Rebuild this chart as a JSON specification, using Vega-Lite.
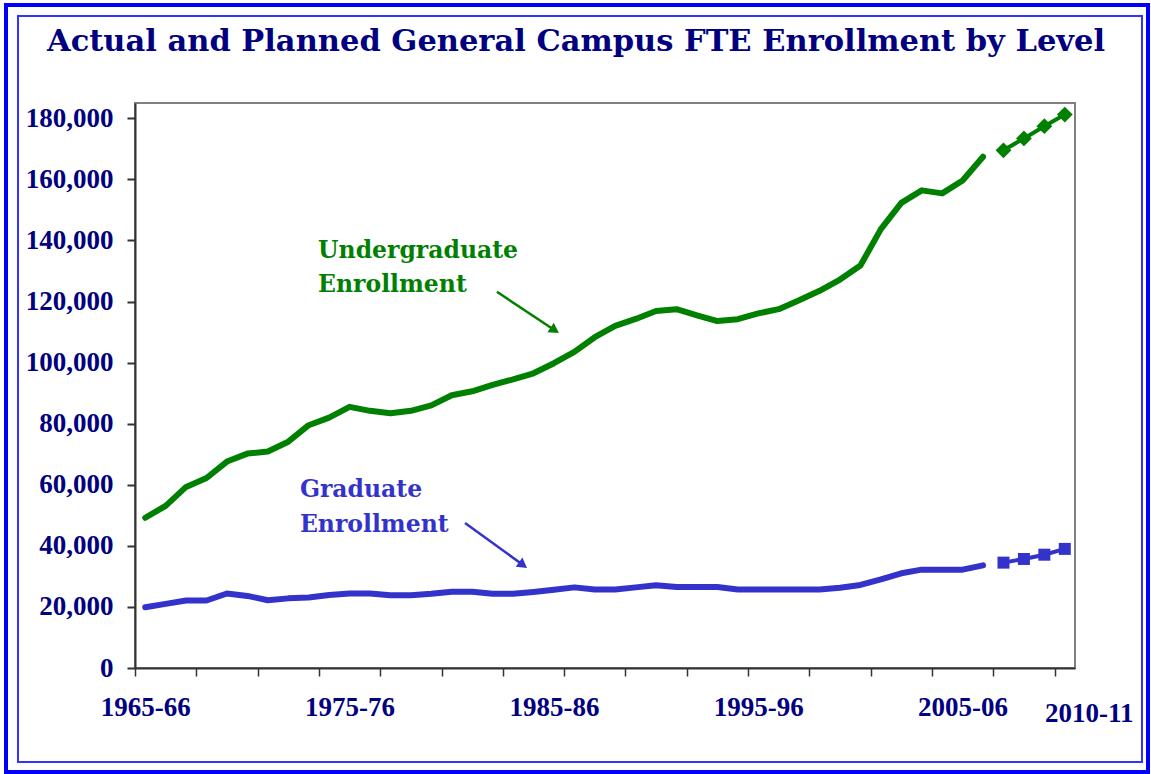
{
  "$schema": "https://vega.github.io/schema/vega-lite/v6.json",
  "width": 940,
  "height": 565,
  "autosize": {"type": "none"},
  "padding": {"left": 135, "top": 103, "right": 76, "bottom": 106},
  "background": "white",
  "title": {
    "text": "Actual and Planned General Campus FTE Enrollment by Level",
    "font": "DejaVu Serif",
    "fontSize": 30.5,
    "fontWeight": "bold",
    "color": "#000080",
    "anchor": "middle",
    "frame": "group",
    "baseline": "alphabetic",
    "offset": -78,
    "dx": -29
  },
  "config": {"view": {"stroke": "#808080", "strokeWidth": 2}},
  "datasets": {
    "actual": [
      {"year": 1965, "level": "Undergraduate", "fte": 49200},
      {"year": 1966, "level": "Undergraduate", "fte": 53100},
      {"year": 1967, "level": "Undergraduate", "fte": 59300},
      {"year": 1968, "level": "Undergraduate", "fte": 62200},
      {"year": 1969, "level": "Undergraduate", "fte": 67600},
      {"year": 1970, "level": "Undergraduate", "fte": 70200},
      {"year": 1971, "level": "Undergraduate", "fte": 70900},
      {"year": 1972, "level": "Undergraduate", "fte": 74100},
      {"year": 1973, "level": "Undergraduate", "fte": 79500},
      {"year": 1974, "level": "Undergraduate", "fte": 82000},
      {"year": 1975, "level": "Undergraduate", "fte": 85500},
      {"year": 1976, "level": "Undergraduate", "fte": 84200},
      {"year": 1977, "level": "Undergraduate", "fte": 83400},
      {"year": 1978, "level": "Undergraduate", "fte": 84200},
      {"year": 1979, "level": "Undergraduate", "fte": 86000},
      {"year": 1980, "level": "Undergraduate", "fte": 89300},
      {"year": 1981, "level": "Undergraduate", "fte": 90600},
      {"year": 1982, "level": "Undergraduate", "fte": 92700},
      {"year": 1983, "level": "Undergraduate", "fte": 94500},
      {"year": 1984, "level": "Undergraduate", "fte": 96500},
      {"year": 1985, "level": "Undergraduate", "fte": 99800},
      {"year": 1986, "level": "Undergraduate", "fte": 103500},
      {"year": 1987, "level": "Undergraduate", "fte": 108300},
      {"year": 1988, "level": "Undergraduate", "fte": 112000},
      {"year": 1989, "level": "Undergraduate", "fte": 114300},
      {"year": 1990, "level": "Undergraduate", "fte": 116900},
      {"year": 1991, "level": "Undergraduate", "fte": 117500},
      {"year": 1992, "level": "Undergraduate", "fte": 115500},
      {"year": 1993, "level": "Undergraduate", "fte": 113600},
      {"year": 1994, "level": "Undergraduate", "fte": 114200},
      {"year": 1995, "level": "Undergraduate", "fte": 116100},
      {"year": 1996, "level": "Undergraduate", "fte": 117500},
      {"year": 1997, "level": "Undergraduate", "fte": 120400},
      {"year": 1998, "level": "Undergraduate", "fte": 123500},
      {"year": 1999, "level": "Undergraduate", "fte": 127200},
      {"year": 2000, "level": "Undergraduate", "fte": 131800},
      {"year": 2001, "level": "Undergraduate", "fte": 143700},
      {"year": 2002, "level": "Undergraduate", "fte": 152300},
      {"year": 2003, "level": "Undergraduate", "fte": 156400},
      {"year": 2004, "level": "Undergraduate", "fte": 155400},
      {"year": 2005, "level": "Undergraduate", "fte": 159600},
      {"year": 2006, "level": "Undergraduate", "fte": 167400},
      {"year": 1965, "level": "Graduate", "fte": 19900},
      {"year": 1966, "level": "Graduate", "fte": 21000},
      {"year": 1967, "level": "Graduate", "fte": 22100},
      {"year": 1968, "level": "Graduate", "fte": 22100},
      {"year": 1969, "level": "Graduate", "fte": 24400},
      {"year": 1970, "level": "Graduate", "fte": 23600},
      {"year": 1971, "level": "Graduate", "fte": 22200},
      {"year": 1972, "level": "Graduate", "fte": 22800},
      {"year": 1973, "level": "Graduate", "fte": 23100},
      {"year": 1974, "level": "Graduate", "fte": 23900},
      {"year": 1975, "level": "Graduate", "fte": 24400},
      {"year": 1976, "level": "Graduate", "fte": 24400},
      {"year": 1977, "level": "Graduate", "fte": 23800},
      {"year": 1978, "level": "Graduate", "fte": 23800},
      {"year": 1979, "level": "Graduate", "fte": 24300},
      {"year": 1980, "level": "Graduate", "fte": 25000},
      {"year": 1981, "level": "Graduate", "fte": 25000},
      {"year": 1982, "level": "Graduate", "fte": 24300},
      {"year": 1983, "level": "Graduate", "fte": 24300},
      {"year": 1984, "level": "Graduate", "fte": 24900},
      {"year": 1985, "level": "Graduate", "fte": 25600},
      {"year": 1986, "level": "Graduate", "fte": 26400},
      {"year": 1987, "level": "Graduate", "fte": 25700},
      {"year": 1988, "level": "Graduate", "fte": 25700},
      {"year": 1989, "level": "Graduate", "fte": 26400},
      {"year": 1990, "level": "Graduate", "fte": 27100},
      {"year": 1991, "level": "Graduate", "fte": 26500},
      {"year": 1992, "level": "Graduate", "fte": 26500},
      {"year": 1993, "level": "Graduate", "fte": 26500},
      {"year": 1994, "level": "Graduate", "fte": 25700},
      {"year": 1995, "level": "Graduate", "fte": 25700},
      {"year": 1996, "level": "Graduate", "fte": 25700},
      {"year": 1997, "level": "Graduate", "fte": 25700},
      {"year": 1998, "level": "Graduate", "fte": 25700},
      {"year": 1999, "level": "Graduate", "fte": 26300},
      {"year": 2000, "level": "Graduate", "fte": 27200},
      {"year": 2001, "level": "Graduate", "fte": 29000},
      {"year": 2002, "level": "Graduate", "fte": 31000},
      {"year": 2003, "level": "Graduate", "fte": 32200},
      {"year": 2004, "level": "Graduate", "fte": 32200},
      {"year": 2005, "level": "Graduate", "fte": 32200},
      {"year": 2006, "level": "Graduate", "fte": 33600}
    ],
    "planned": [
      {"year": 2007, "level": "Undergraduate", "fte": 169500},
      {"year": 2008, "level": "Undergraduate", "fte": 173400},
      {"year": 2009, "level": "Undergraduate", "fte": 177400},
      {"year": 2010, "level": "Undergraduate", "fte": 181200},
      {"year": 2007, "level": "Graduate", "fte": 34500},
      {"year": 2008, "level": "Graduate", "fte": 35700},
      {"year": 2009, "level": "Graduate", "fte": 37100},
      {"year": 2010, "level": "Graduate", "fte": 39000}
    ]
  },
  "layer": [
    {
      "data": {"values": [{}]},
      "mark": {"type": "rect", "filled": false, "stroke": "#0000FF", "strokeWidth": 4},
      "encoding": {
        "x": {"value": -129}, "x2": {"value": 1013},
        "y": {"value": -98}, "y2": {"value": 669}
      }
    },
    {
      "data": {"values": [{}]},
      "mark": {"type": "rect", "filled": false, "stroke": "#3333FF", "strokeWidth": 2},
      "encoding": {
        "x": {"value": -117}, "x2": {"value": 1007},
        "y": {"value": -87}, "y2": {"value": 659}
      }
    },
    {
      "data": {"name": "actual"},
      "mark": {"type": "line", "strokeWidth": 6, "strokeCap": "round", "strokeJoin": "round"},
      "encoding": {
        "x": {
          "field": "year", "type": "quantitative",
          "scale": {"domain": [1964.5, 2010.5], "nice": false, "zero": false},
          "axis": {
            "orient": "bottom", "title": null, "grid": false, "labels": false,
            "values": [1964.5, 1967.5, 1970.5, 1973.5, 1976.5, 1979.5, 1982.5, 1985.5, 1988.5, 1991.5, 1994.5, 1997.5, 2000.5, 2003.5, 2006.5, 2009.5],
            "tickSize": 8, "tickWidth": 1.5, "tickColor": "#333333",
            "domainColor": "#333333", "domainWidth": 2
          }
        },
        "y": {
          "field": "fte", "type": "quantitative",
          "scale": {"domain": [0, 185000], "nice": false},
          "axis": {
            "orient": "left", "title": null, "grid": false,
            "values": [0, 20000, 40000, 60000, 80000, 100000, 120000, 140000, 160000, 180000],
            "format": ",.0f",
            "labelFont": "Liberation Serif", "labelFontSize": 27, "labelFontWeight": "bold",
            "labelColor": "#000080", "labelPadding": 14,
            "tickSize": 8, "tickWidth": 2, "tickColor": "#333333",
            "domainColor": "#333333", "domainWidth": 2
          }
        },
        "color": {
          "field": "level", "type": "nominal",
          "scale": {"domain": ["Undergraduate", "Graduate"], "range": ["#008000", "#3333CC"]},
          "legend": null
        }
      }
    },
    {
      "data": {"name": "planned"},
      "mark": {"type": "line", "strokeWidth": 4},
      "encoding": {
        "x": {
          "field": "year", "type": "quantitative",
          "scale": {"domain": [1964.5, 2010.5], "nice": false, "zero": false},
          "axis": {
            "orient": "bottom", "title": null, "grid": false,
            "values": [1965, 1975, 1985, 1995, 2005],
            "labelExpr": "datum.value + '-' + slice('' + (datum.value + 1), 2)",
            "ticks": false, "tickSize": 0, "domain": false,
            "labelFont": "Liberation Serif", "labelFontSize": 27, "labelFontWeight": "bold",
            "labelColor": "#000080", "labelBaseline": "alphabetic", "labelPadding": 47,
            "labelFlush": false, "labelOverlap": false
          }
        },
        "y": {"field": "fte", "type": "quantitative", "scale": {"domain": [0, 185000], "nice": false}, "axis": null},
        "color": {
          "field": "level", "type": "nominal",
          "scale": {"domain": ["Undergraduate", "Graduate"], "range": ["#008000", "#3333CC"]},
          "legend": null
        }
      }
    },
    {
      "data": {"name": "planned"},
      "transform": [{"filter": "datum.level == 'Undergraduate'"}],
      "mark": {"type": "point", "shape": "diamond", "filled": true, "size": 250, "opacity": 1, "color": "#008000"},
      "encoding": {
        "x": {
          "field": "year", "type": "quantitative",
          "scale": {"domain": [1964.5, 2010.5], "nice": false, "zero": false},
          "axis": {
            "orient": "bottom", "title": null, "grid": false,
            "values": [2010],
            "labelExpr": "datum.value + '-' + slice('' + (datum.value + 1), 2)",
            "ticks": false, "tickSize": 0, "domain": false,
            "labelFont": "Liberation Serif", "labelFontSize": 27, "labelFontWeight": "bold",
            "labelColor": "#000080", "labelBaseline": "alphabetic", "labelPadding": 53,
            "labelOffset": 24, "labelFlush": false, "labelOverlap": false
          }
        },
        "y": {"field": "fte", "type": "quantitative", "scale": {"domain": [0, 185000], "nice": false}, "axis": null}
      }
    },
    {
      "data": {"name": "planned"},
      "transform": [{"filter": "datum.level == 'Graduate'"}],
      "mark": {"type": "point", "shape": "square", "filled": true, "size": 144, "opacity": 1, "color": "#3333CC"},
      "encoding": {
        "x": {"field": "year", "type": "quantitative", "scale": {"domain": [1964.5, 2010.5], "nice": false, "zero": false}, "axis": null},
        "y": {"field": "fte", "type": "quantitative", "scale": {"domain": [0, 185000], "nice": false}, "axis": null}
      }
    },
    {
      "data": {"values": [{}]},
      "mark": {
        "type": "text", "text": ["Undergraduate", "Enrollment"],
        "font": "DejaVu Serif", "fontSize": 23.5, "fontWeight": "bold", "color": "#008000",
        "align": "left", "baseline": "alphabetic", "lineHeight": 34
      },
      "encoding": {
        "x": {"datum": 1973.46, "type": "quantitative", "axis": null},
        "y": {"datum": 134240, "type": "quantitative", "axis": null}
      }
    },
    {
      "data": {"values": [{}]},
      "mark": {
        "type": "text", "text": ["Graduate", "Enrollment"],
        "font": "DejaVu Serif", "fontSize": 23.5, "fontWeight": "bold", "color": "#3333CC",
        "align": "left", "baseline": "alphabetic", "lineHeight": 34.5
      },
      "encoding": {
        "x": {"datum": 1972.57, "type": "quantitative", "axis": null},
        "y": {"datum": 55990, "type": "quantitative", "axis": null}
      }
    },
    {
      "data": {"values": [{}]},
      "mark": {"type": "rule", "strokeWidth": 2.5, "color": "#008000"},
      "encoding": {
        "x": {"datum": 1982.21, "type": "quantitative", "axis": null},
        "x2": {"datum": 1985.04},
        "y": {"datum": 123200, "type": "quantitative", "axis": null},
        "y2": {"datum": 110600}
      }
    },
    {
      "data": {"values": [{}]},
      "mark": {"type": "point", "shape": "triangle-right", "filled": true, "size": 130, "angle": 33.7, "opacity": 1, "color": "#008000"},
      "encoding": {
        "x": {"datum": 1985.04, "type": "quantitative", "axis": null},
        "y": {"datum": 110600, "type": "quantitative", "axis": null}
      }
    },
    {
      "data": {"values": [{}]},
      "mark": {"type": "rule", "strokeWidth": 2.5, "color": "#3333CC"},
      "encoding": {
        "x": {"datum": 1980.65, "type": "quantitative", "axis": null},
        "x2": {"datum": 1983.49},
        "y": {"datum": 47470, "type": "quantitative", "axis": null},
        "y2": {"datum": 33720}
      }
    },
    {
      "data": {"values": [{}]},
      "mark": {"type": "point", "shape": "triangle-right", "filled": true, "size": 130, "angle": 36, "opacity": 1, "color": "#3333CC"},
      "encoding": {
        "x": {"datum": 1983.49, "type": "quantitative", "axis": null},
        "y": {"datum": 33720, "type": "quantitative", "axis": null}
      }
    }
  ],
  "resolve": {"axis": {"x": "independent", "y": "independent"}}
}
